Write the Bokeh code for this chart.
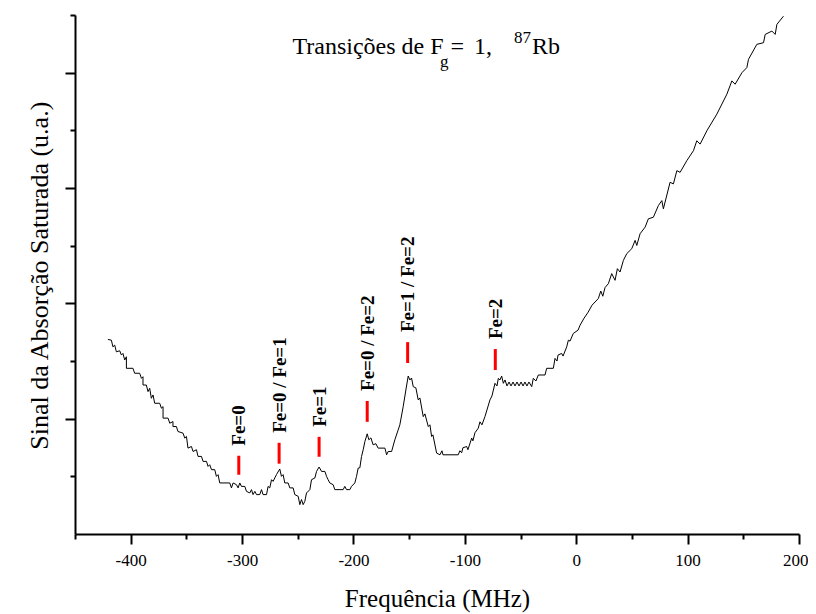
from math import pi
from bokeh.plotting import figure
from bokeh.models import Range1d, FixedTicker, Label, ColumnDataSource
from bokeh.core.properties import value
from bokeh.embed import file_html
from bokeh.resources import INLINE

# ---- data (frequency in MHz, signal in arbitrary units)
freq = [-420.9, -417.8, -416.4, -414.8, -413.3, -410.3, -408.8, -407.4, -405.8, -404.3,
        -404.3, -398.4, -396.9, -392.4, -390.8, -389.4, -389.4, -386.4, -384.9, -383.4,
        -381.9, -380.4, -378.9, -374.4, -372.9, -371.4, -371.4, -366.9, -365.4, -362.5,
        -362.5, -359.4, -358.0, -353.5, -351.9, -350.4, -349.0, -345.9, -344.5, -341.4,
        -340.0, -336.9, -335.5, -332.4, -331.0, -329.5, -327.9, -325.0, -323.5, -322.0,
        -320.5, -311.5, -310.0, -308.5, -305.5, -304.0, -302.5, -301.0, -298.0, -296.5,
        -293.5, -292.0, -290.6, -289.0, -287.5, -284.6, -283.0, -281.6, -278.5, -277.1,
        -275.6, -274.0, -272.6, -269.6, -266.6, -265.1, -263.6, -262.1, -259.1, -257.6,
        -254.6, -253.1, -250.1, -248.6, -247.1, -245.6, -244.1, -242.6, -239.6, -238.1,
        -235.1, -233.6, -231.3, -229.1, -226.1, -224.6, -223.2, -221.7, -218.7, -217.2,
        -209.7, -208.2, -206.7, -203.7, -202.2, -199.2, -197.7, -196.2, -194.7, -193.2,
        -191.7, -190.2, -188.1, -186.6, -184.8, -182.8, -180.3, -178.3, -172.2, -170.7,
        -169.3, -166.2, -163.3, -160.6, -158.8, -155.8, -153.4, -151.3, -149.8, -148.3,
        -146.8, -144.4, -142.3, -140.8, -137.8, -136.3, -133.3, -131.8, -130.3, -129.1,
        -125.8, -122.8, -121.0, -120.1, -106.4, -104.9, -103.3, -102.2, -98.8, -97.7,
        -94.3, -93.2, -91.4, -88.4, -86.9, -85.1, -82.4, -80.6, -77.9, -76.1,
        -73.4, -71.6, -70.4, -68.9, -67.4, -65.9, -64.4, -62.6, -60.8, -59.0,
        -57.2, -55.4, -53.6, -51.8, -50.0, -48.2, -46.5, -44.7, -42.9, -40.4,
        -39.0, -36.6, -34.5, -28.5, -27.0, -21.0, -19.5, -17.7, -16.8, -13.5,
        -12.3, -9.0, -7.5, -6.0, -3.1, 1.2, 3.0, 6.6, 10.2, 13.7,
        19.4, 21.6, 23.4, 25.4, 28.4, 31.4, 34.4, 36.5, 38.9, 41.9,
        44.9, 49.4, 52.4, 53.9, 56.9, 61.4, 64.3, 68.8, 73.3, 76.4,
        77.8, 83.8, 86.8, 89.9, 92.8, 98.8, 104.8, 107.8, 110.8, 116.8,
        125.8, 134.8, 139.3, 142.2, 148.3, 152.7, 154.2, 161.7, 167.7, 169.2,
        175.2, 178.2, 179.7, 185.6]
signal = [1.691, 1.685, 1.627, 1.642, 1.584, 1.593, 1.556, 1.570, 1.513, 1.541,
          1.441, 1.441, 1.398, 1.398, 1.354, 1.368, 1.296, 1.296, 1.239, 1.268,
          1.181, 1.210, 1.138, 1.138, 1.095, 1.109, 1.009, 1.009, 0.965, 0.979,
          0.936, 0.936, 0.893, 0.879, 0.836, 0.850, 0.749, 0.763, 0.720, 0.735,
          0.677, 0.677, 0.634, 0.634, 0.590, 0.605, 0.562, 0.562, 0.504, 0.519,
          0.447, 0.447, 0.404, 0.447, 0.432, 0.404, 0.447, 0.417, 0.417, 0.374,
          0.360, 0.389, 0.346, 0.374, 0.346, 0.346, 0.389, 0.346, 0.346, 0.417,
          0.404, 0.475, 0.461, 0.519, 0.568, 0.504, 0.519, 0.447, 0.447, 0.404,
          0.404, 0.346, 0.331, 0.259, 0.303, 0.259, 0.288, 0.360, 0.389, 0.475,
          0.490, 0.547, 0.585, 0.547, 0.547, 0.504, 0.475, 0.447, 0.432, 0.389,
          0.389, 0.417, 0.389, 0.389, 0.417, 0.447, 0.504, 0.576, 0.579, 0.677,
          0.735, 0.806, 0.873, 0.821, 0.838, 0.778, 0.787, 0.749, 0.749, 0.691,
          0.720, 0.720, 0.821, 0.899, 0.951, 1.109, 1.253, 1.374, 1.340, 1.357,
          1.282, 1.271, 1.167, 1.184, 1.022, 1.046, 0.936, 0.951, 0.850, 0.864,
          0.706, 0.691, 0.726, 0.691, 0.691, 0.726, 0.709, 0.752, 0.763, 0.735,
          0.836, 0.812, 0.882, 0.922, 0.977, 0.951, 1.022, 1.080, 1.167, 1.201,
          1.311, 1.288, 1.354, 1.340, 1.374, 1.311, 1.340, 1.288, 1.322, 1.288,
          1.322, 1.288, 1.322, 1.288, 1.322, 1.288, 1.322, 1.288, 1.322, 1.282,
          1.354, 1.331, 1.383, 1.383, 1.441, 1.441, 1.527, 1.504, 1.556, 1.570,
          1.547, 1.627, 1.685, 1.677, 1.743, 1.772, 1.815, 1.876, 1.927, 1.988,
          2.046, 2.111, 2.066, 2.141, 2.175, 2.262, 2.204, 2.305, 2.276, 2.377,
          2.435, 2.478, 2.550, 2.506, 2.608, 2.665, 2.737, 2.751, 2.852, 2.895,
          2.824, 3.054, 3.040, 3.155, 3.140, 3.241, 3.328, 3.414, 3.385, 3.500,
          3.645, 3.818, 3.933, 3.904, 4.004, 4.048, 4.120, 4.250, 4.264, 4.336,
          4.365, 4.336, 4.423, 4.494]

# transition markers
trans_labels = ["Fe=0", "Fe=0 / Fe=1", "Fe=1", "Fe=0 / Fe=2", "Fe=1 / Fe=2", "Fe=2"]
trans_freq = [-303.4, -267.2, -231.3, -188.1, -151.8, -73.1]
mark_low = [0.519, 0.614, 0.674, 0.977, 1.487, 1.426]
mark_high = [0.683, 0.795, 0.847, 1.158, 1.668, 1.608]

x_major = [-400, -300, -200, -100, 0, 100, 200]
x_minor = [-450, -350, -250, -150, -50, 50, 150]
x_tick_labels = ["-400", "-300", "-200", "-100", "0", "100", "200"]
y_major = [1, 2, 3, 4]
y_minor = [0.5, 1.5, 2.5, 3.5, 4.5]

# title pieces: (text, x, baseline y, font size)
title_pieces = [
    ("Transições de F", -255.2, 4.235, "24px"),
    ("g", -122.8, 4.100, "17px"),
    ("=", -113.4, 4.235, "24px"),
    ("1,", -92.3, 4.235, "24px"),
    ("87", -56.3, 4.307, "17px"),
    ("Rb", -40.2, 4.235, "24px"),
]

SERIF = "Liberation Serif"

p = figure(width=808, height=614, output_backend="svg", toolbar_location=None,
           x_range=Range1d(-450, 200), y_range=Range1d(0, 4.5),
           min_border_left=75, min_border_right=9, min_border_top=15, min_border_bottom=79)
p.outline_line_color = None
p.xgrid.grid_line_color = None
p.ygrid.grid_line_color = None
p.background_fill_color = "white"

# curve
p.line(freq, signal, line_color="black", line_width=1)

# red markers + rotated labels
src = ColumnDataSource(dict(x=trans_freq, y0=mark_low, y1=mark_high, lab=trans_labels))
p.segment(x0="x", y0="y0", x1="x", y1="y1", source=src, line_color="#ff0000", line_width=3)
p.text(x="x", y="y1", text="lab", source=src, angle=pi / 2, y_offset=-10,
       text_align="left", text_baseline="middle",
       text_font=value(SERIF), text_font_style="bold", text_font_size="19px",
       text_color="black")

# axes
for ax in (p.xaxis[0], p.yaxis[0]):
    ax.axis_line_width = 2
    ax.axis_line_color = "black"
    ax.major_tick_line_width = 2
    ax.minor_tick_line_width = 2
    ax.major_tick_in = 0
    ax.minor_tick_in = 0
    ax.major_tick_out = 10
    ax.minor_tick_out = 5
    ax.axis_label_text_font = SERIF
    ax.axis_label_text_font_style = "normal"
    ax.axis_label_text_color = "black"
    ax.major_label_text_font = SERIF
    ax.major_label_text_color = "black"

p.xaxis.ticker = FixedTicker(ticks=x_major, minor_ticks=x_minor)
p.xaxis.major_label_overrides = {t: s for t, s in zip(x_major, x_tick_labels)}
p.xaxis.major_label_text_font_size = "17px"
p.xaxis.major_label_standoff = 10
p.xaxis.axis_label = "Frequência (MHz)"
p.xaxis.axis_label_text_font_size = "25px"
p.xaxis.axis_label_standoff = 16

p.yaxis.ticker = FixedTicker(ticks=y_major, minor_ticks=y_minor)
p.yaxis.major_label_overrides = {t: "" for t in y_major}
p.yaxis.major_label_standoff = 0
p.yaxis.axis_label = "Sinal da Absorção Saturada (u.a.)"
p.yaxis.axis_label_text_font_size = "26px"
p.yaxis.axis_label_standoff = 12

for txt, xd, yd, fs in title_pieces:
    p.add_layout(Label(x=xd, y=yd, text=txt,
                       text_font=SERIF, text_font_size=fs, text_color="black",
                       text_baseline="alphabetic", text_align="left"))

open("out.html", "w").write(file_html(p, INLINE))
